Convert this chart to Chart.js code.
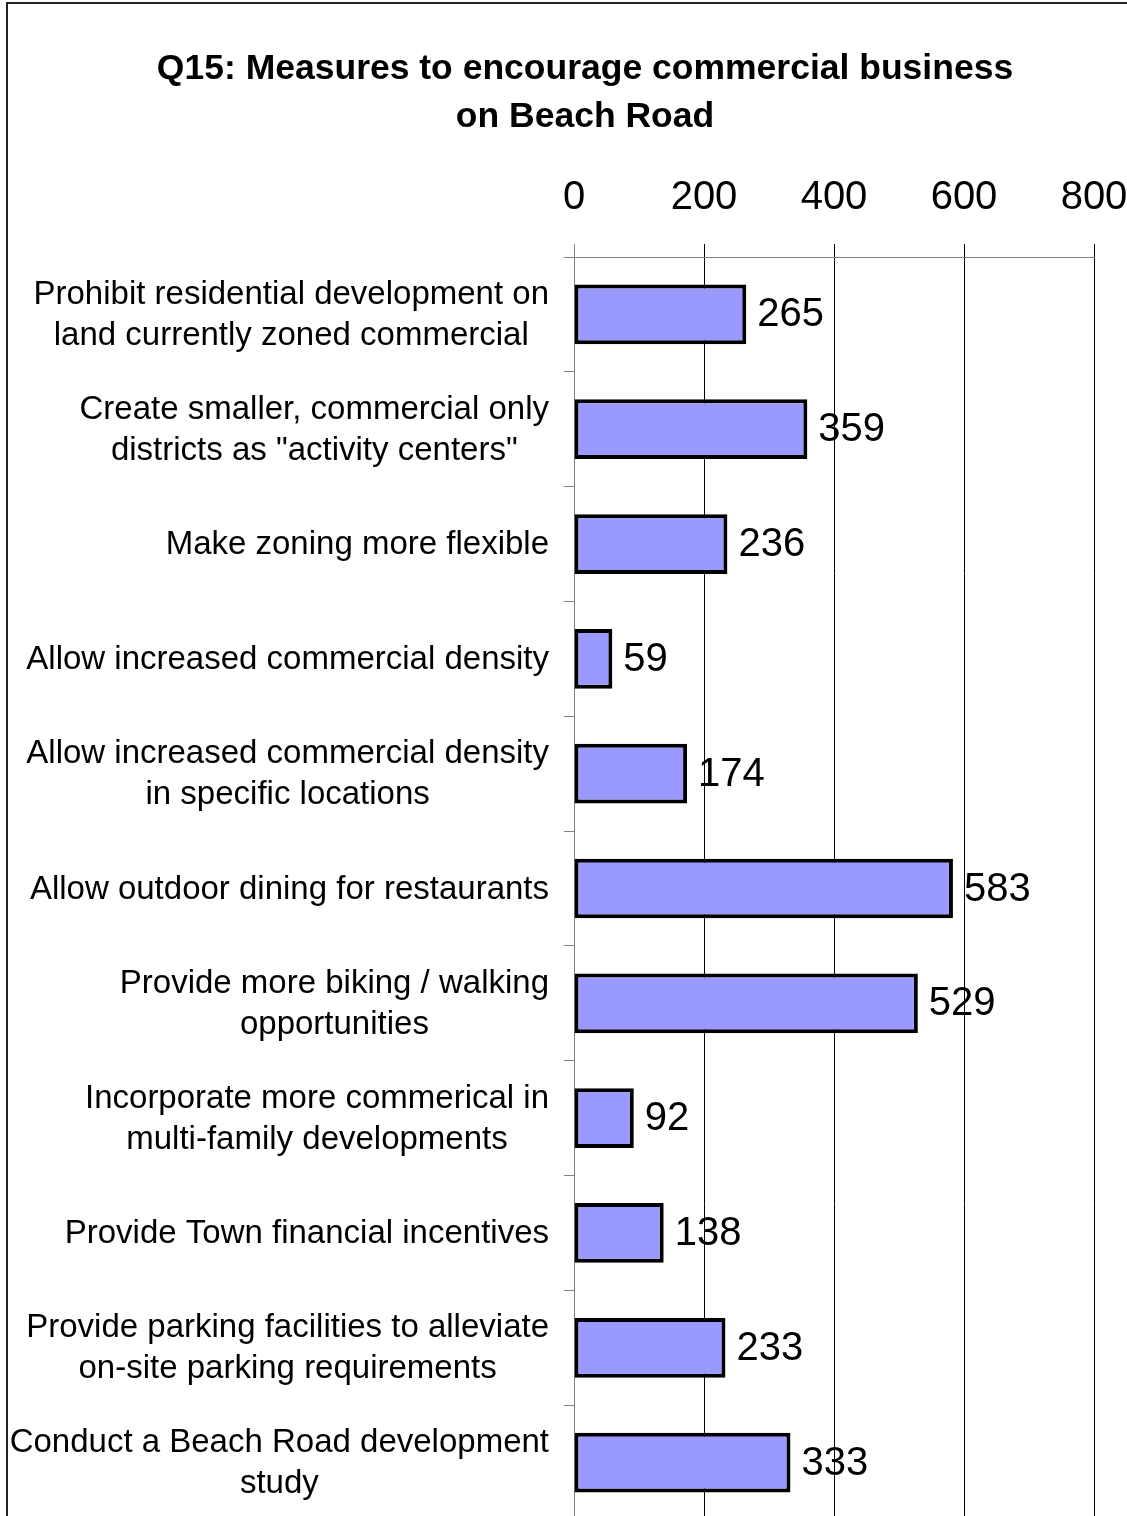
<!DOCTYPE html>
<html>
<head>
<meta charset="utf-8">
<script src="https://cdn.jsdelivr.net/npm/chart.js@4.4.0/dist/chart.umd.min.js"></script>
<style>
  html, body { margin: 0; padding: 0; background: #fff; overflow: hidden; }
  #cadre { position: absolute; left: 6px; top: 2px; width: 1200px; height: 1600px; border: 2px solid #222; }
  #graph { position: absolute; left: 0; top: 0; }
</style>
</head>
<body>
<div id="cadre"></div>
<canvas id="graph" width="1160" height="1520"></canvas>
<script>
// donnees
var titre = ["Q15: Measures to encourage commercial business", "on Beach Road"];
var categories = [
    ["Prohibit residential development on", "land currently zoned commercial"],
    ["Create smaller, commercial only", "districts as \"activity centers\""],
    ["Make zoning more flexible"],
    ["Allow increased commercial density"],
    ["Allow increased commercial density", "in specific locations"],
    ["Allow outdoor dining for restaurants"],
    ["Provide more biking / walking", "opportunities"],
    ["Incorporate more commerical in", "multi-family developments"],
    ["Provide Town financial incentives"],
    ["Provide parking facilities to alleviate", "on-site parking requirements"],
    ["Conduct a Beach Road development", "study"]
];
var valeurs = [265, 359, 236, 59, 174, 583, 529, 92, 138, 233, 333];
var graduations = [0, 200, 400, 600, 800];

var police = "'Liberation Sans', Arial, sans-serif";

// libelles des categories : bloc aligne a droite, lignes centrees dans le bloc
var etiquettesCategories = {
    id: 'etiquettesCategories',
    afterDraw: function (chart) {
        var ctx = chart.ctx;
        var yScale = chart.scales.y;
        var droite = yScale.right - 10 - 15;
        ctx.save();
        ctx.font = "33px " + police;
        ctx.fillStyle = "#000";
        ctx.textAlign = "center";
        ctx.textBaseline = "middle";
        categories.forEach(function (lignes, i) {
            var yc = yScale.getPixelForValue(i) + 1;
            var largeur = 0;
            lignes.forEach(function (l) {
                largeur = Math.max(largeur, ctx.measureText(l).width);
            });
            var xc = droite - largeur / 2;
            lignes.forEach(function (l, j) {
                ctx.fillText(l, xc, yc + (j - (lignes.length - 1) / 2) * 41);
            });
        });
        ctx.restore();
    }
};

// valeurs a droite des barres
var valeursBarres = {
    id: 'valeursBarres',
    afterDatasetsDraw: function (chart) {
        var ctx = chart.ctx;
        var meta = chart.getDatasetMeta(0);
        ctx.save();
        ctx.font = "40px " + police;
        ctx.fillStyle = "#000";
        ctx.textAlign = "left";
        ctx.textBaseline = "middle";
        meta.data.forEach(function (barre, i) {
            ctx.fillText(String(valeurs[i]), barre.x + 11, barre.y + 1);
        });
        ctx.restore();
    }
};

const ctx = document.getElementById('graph').getContext('2d');
const monGraphique = new Chart(ctx, {
    type: 'bar',
    data: {
        labels: categories,
        datasets: [{
            data: valeurs,
            backgroundColor: '#9999FF',
            borderColor: '#000',
            borderWidth: 4,
            borderSkipped: false,
            categoryPercentage: 1,
            barPercentage: 0.52
        }]
    },
    options: {
        indexAxis: 'y',
        responsive: false,
        animation: false,
        devicePixelRatio: 1,
        layout: {
            padding: { left: 76, right: 66, top: 0, bottom: 0 }
        },
        scales: {
            x: {
                position: 'top',
                min: 0,
                max: 800,
                afterBuildTicks: function (scale) {
                    scale.ticks = graduations.map(function (v) { return { value: v }; });
                },
                afterFit: function (scale) {
                    scale.height = 82;
                },
                ticks: {
                    padding: 22,
                    color: '#000',
                    font: { family: police, size: 40 }
                },
                grid: {
                    color: function (c) { return c.index === 0 ? '#808080' : '#000'; },
                    lineWidth: 1,
                    tickLength: 13
                },
                border: { display: true, color: '#808080', width: 1 }
            },
            y: {
                offset: true,
                afterFit: function (scale) {
                    scale.width = 574 - 76;
                },
                ticks: { display: false },
                grid: {
                    offset: true,
                    drawOnChartArea: false,
                    tickLength: 10,
                    color: '#808080'
                },
                border: { display: true, color: '#808080', width: 1 }
            }
        },
        plugins: {
            legend: { display: false },
            tooltip: { enabled: false },
            title: {
                display: true,
                text: titre,
                color: '#000',
                font: { family: police, size: 35.5, weight: 'bold', lineHeight: 48 / 35.5 },
                padding: { top: 45, bottom: 34 }
            }
        }
    },
    plugins: [etiquettesCategories, valeursBarres]
});
</script>
</body>
</html>
